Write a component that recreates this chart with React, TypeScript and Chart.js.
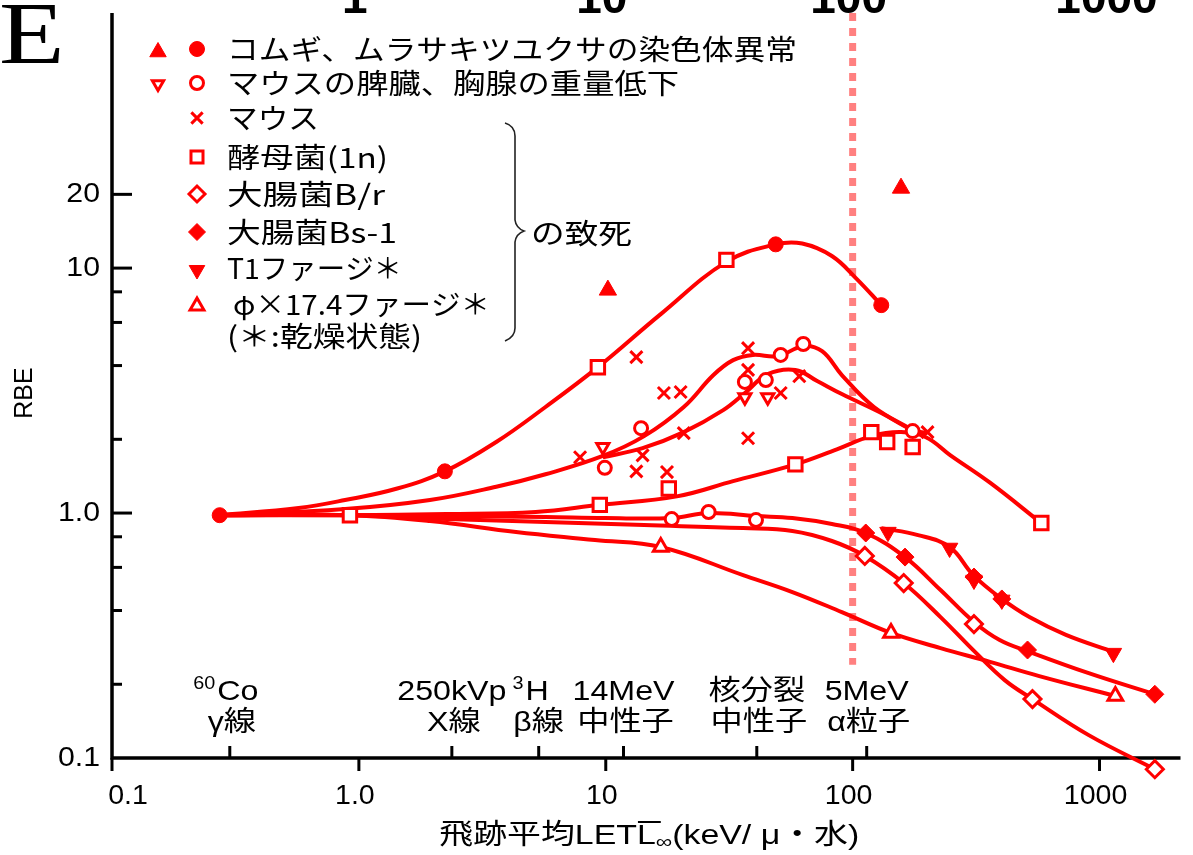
import React, { useEffect, useRef } from 'react';
import { Chart, registerables } from 'chart.js';

Chart.register(...registerables);

const RED = '#ff0000';
const X_MIN = 0.1;
const X_MAX = 2128;
const Y_MIN = 0.1;
const Y_MAX = 110;

// ---------- measured points (LET keV/µm, RBE) ----------
// ● コムギ、ムラサキツユクサの染色体異常
const chromCircX = [0.273, 2.23, 48.8, 130.6];
const chromCircY = [0.98, 1.48, 12.5, 7.06];
// ▲
const chromTriX = [10.2, 157];
const chromTriY = [8.13, 21.2];
// ○ マウスの脾臓、胸腺の重量低下
const organCircX = [9.91, 13.9, 36.6, 44.5, 51.1, 63.1, 175, 18.5, 26.1, 40.6];
const organCircY = [1.53, 2.22, 3.43, 3.49, 4.42, 4.9, 2.16, 0.945, 1.01, 0.936];
// ▽
const organTriX = [9.73, 36.6, 45.3];
const organTriY = [1.86, 2.97, 2.97];
// × マウス
const mouseX = [7.87, 13.3, 17.2, 20.1, 14.1, 13.3, 17.7, 20.7, 37.7, 37.7, 51.1, 60.8, 37.7, 201];
const mouseY = [1.69, 4.33, 3.09, 3.12, 1.72, 1.48, 1.47, 2.12, 4.71, 3.84, 3.09, 3.62, 2.02, 2.14];
// □ 酵母菌(1n)
const yeastX = [0.92, 9.29, 30.8, 9.46, 18.0, 58.6, 119, 138, 175, 581];
const yeastY = [0.98, 3.94, 10.8, 1.08, 1.26, 1.58, 2.14, 1.95, 1.86, 0.91];
// ◇ 大腸菌B/r
const ecoliBrX = [112, 161, 310, 535, 1675];
const ecoliBrY = [0.668, 0.518, 0.352, 0.174, 0.09];
// ◆ 大腸菌Bs-1
const ecoliBsX = [113, 163, 310, 402, 511, 1675];
const ecoliBsY = [0.829, 0.661, 0.548, 0.446, 0.276, 0.182];
// ▼ T1ファージ
const t1X = [139, 247, 310, 402, 1138];
const t1Y = [0.836, 0.72, 0.533, 0.442, 0.268];
// △ φ×17.4ファージ
const phiX = [16.7, 143, 1159];
const phiY = [0.727, 0.324, 0.179];

// ---------- hand-drawn curves ----------
const curveTopX = [0.273, 0.57, 0.879, 1.43, 2.23, 3.6, 5.7, 9.29, 16.7, 30.8, 48.8, 62.5, 82.4, 104, 130.6];
const curveTopY = [0.98, 1.048, 1.13, 1.26, 1.48, 1.95, 2.71, 3.94, 6.49, 10.6, 12.5, 12.6, 11.2, 9.02, 7.06];
const curveOrganX = [0.273, 0.879, 1.94, 3.6, 5.7, 9.73, 14.3, 20.7, 27.3, 32.8, 39.4, 49.7, 63.1, 75.2, 90.4, 122, 175];
const curveOrganY = [0.98, 1.038, 1.13, 1.28, 1.44, 1.71, 2.06, 2.71, 3.66, 4.21, 4.42, 4.37, 4.8, 4.58, 3.66, 2.71, 2.18];
const curveMouseX = [9.73, 14.1, 20.7, 29.9, 36.6, 45.3, 58.6, 71.8, 90.4, 130.6, 175, 201];
const curveMouseY = [1.69, 1.84, 2.14, 2.63, 3.09, 3.69, 3.84, 3.46, 3.06, 2.56, 2.18, 2.12];
const curveYeastX = [0.273, 0.92, 2.27, 5.2, 9.46, 19.4, 32.8, 58.6, 86.3, 119, 157, 198, 249, 360, 581];
const curveYeastY = [0.98, 0.98, 0.99, 1.01, 1.08, 1.17, 1.35, 1.58, 1.82, 2.06, 2.14, 2.04, 1.72, 1.33, 0.91];
const curveBsX = [0.273, 0.92, 2.27, 5.7, 9.91, 18.5, 26.1, 40.6, 57.0, 82.4, 113, 163, 227, 310, 394, 511, 904, 1675];
const curveBsY = [0.98, 0.98, 0.972, 0.963, 0.954, 0.954, 1.0, 0.972, 0.954, 0.902, 0.829, 0.661, 0.485, 0.359, 0.303, 0.273, 0.222, 0.182];
const curveBrX = [0.273, 0.92, 2.27, 5.7, 14.3, 36.0, 57.0, 82.4, 112, 161, 227, 313, 413, 535, 904, 1675];
const curveBrY = [0.98, 0.98, 0.945, 0.919, 0.893, 0.868, 0.845, 0.769, 0.668, 0.518, 0.376, 0.271, 0.208, 0.174, 0.124, 0.09];
const curvePhiX = [0.273, 0.92, 1.94, 4.33, 9.04, 16.7, 36.0, 57.0, 90.4, 143, 227, 360, 570, 1159];
const curvePhiY = [0.98, 0.98, 0.928, 0.837, 0.776, 0.727, 0.558, 0.476, 0.394, 0.324, 0.281, 0.247, 0.216, 0.179];
const curveT1X = [130.6, 184, 247, 308, 402, 520, 731, 1138];
const curveT1Y = [0.868, 0.813, 0.727, 0.558, 0.446, 0.376, 0.318, 0.271];

// dashed reference line at LET = 100
const refLineX = [100, 100];
const refLineY = [110, 0.24];

// ---------- axes ----------
const xMajorTicks = [0.1, 1, 10, 100, 1000];
const xTickLabels = ['0.1', '1.0', '10', '100', '1000'];
const yMajorTicks = [1, 10, 20];
const yMinorTicks = [0.2, 0.4, 0.6, 0.8, 2, 4, 6, 8];
const yTickValues = [0.1, 1, 10, 20];
const yTickLabels = ['0.1', '1.0', '10', '20'];
const radiationLET = [0.3, 2.38, 5.35, 11.8, 40.9, 114];
const radiationLine1 = ['60Co', '250kVp', '3H', '14MeV', '核分裂', '5MeV'];
const radiationLine2 = ['γ線', 'X線', 'β線', '中性子', '中性子', 'α粒子'];
const topCutLabels = ['1', '10', '100', '1000'];
const topCutValues = [1, 10, 100, 1000];

const legendLabels = [
  'コムギ、ムラサキツユクサの染色体異常',
  'マウスの脾臓、胸腺の重量低下',
  'マウス',
  '酵母菌(1n)',
  '大腸菌B/r',
  '大腸菌Bs-1',
  'T1ファージ＊',
  'φ×17.4ファージ＊',
  '(＊:乾燥状態)',
];

const SANS = "'Liberation Sans', 'Noto Sans CJK JP', sans-serif";
const JP = "'Noto Sans CJK JP', sans-serif";

function pts(xs: number[], ys: number[]) {
  return xs.map((x, i) => ({ x, y: ys[i] }));
}

function markerSet(label: string, xs: number[], ys: number[], style: string, r: number, filled: boolean, rot = 0) {
  return {
    label,
    data: pts(xs, ys),
    showLine: false,
    pointStyle: style,
    pointRadius: r,
    pointHoverRadius: r,
    pointRotation: rot,
    pointBackgroundColor: filled ? RED : '#ffffff',
    pointBorderColor: RED,
    pointBorderWidth: filled ? 1 : 3,
    order: 0,
    clip: false,
  };
}

function curveSet(label: string, xs: number[], ys: number[]) {
  return {
    label,
    data: pts(xs, ys),
    showLine: true,
    pointRadius: 0,
    pointHoverRadius: 0,
    borderColor: RED,
    borderWidth: 4,
    tension: 0.4,
    fill: false,
    order: 1,
    clip: false,
  };
}

type TOpt = { size: number; family?: string; weight?: string; align?: CanvasTextAlign; sx?: number; width?: number; color?: string };

function text(ctx: CanvasRenderingContext2D, s: string, x: number, y: number, o: TOpt) {
  ctx.save();
  ctx.font = `${o.weight || 'normal'} ${o.size}px ${o.family || SANS}`;
  ctx.fillStyle = o.color || '#000';
  ctx.textBaseline = 'middle';
  const w = ctx.measureText(s).width;
  let sx = o.sx || 1;
  if (o.width) sx = o.width / w;
  const total = w * sx;
  let left = x;
  if (o.align === 'center') left = x - total / 2;
  else if (o.align === 'right') left = x - total;
  ctx.translate(left, y);
  ctx.scale(sx, 1);
  ctx.textAlign = 'left';
  ctx.fillText(s, 0, 0);
  ctx.restore();
  return total;
}

function mark(ctx: CanvasRenderingContext2D, style: string, x: number, y: number, r: number, filled: boolean, rot = 0) {
  ctx.save();
  ctx.translate(x, y);
  ctx.rotate((rot * Math.PI) / 180);
  ctx.beginPath();
  if (style === 'circle') ctx.arc(0, 0, r, 0, Math.PI * 2);
  else if (style === 'triangle') {
    for (let k = 0; k < 3; k++) {
      const a = (k * 2 * Math.PI) / 3;
      if (k === 0) ctx.moveTo(Math.sin(a) * r, -Math.cos(a) * r);
      else ctx.lineTo(Math.sin(a) * r, -Math.cos(a) * r);
    }
    ctx.closePath();
  } else if (style === 'rect') {
    const s = r * Math.SQRT1_2;
    ctx.rect(-s, -s, 2 * s, 2 * s);
  } else if (style === 'rectRot') {
    ctx.moveTo(-r, 0);
    ctx.lineTo(0, -r);
    ctx.lineTo(r, 0);
    ctx.lineTo(0, r);
    ctx.closePath();
  } else if (style === 'crossRot') {
    const s = r * Math.SQRT1_2;
    ctx.moveTo(-s, -s);
    ctx.lineTo(s, s);
    ctx.moveTo(-s, s);
    ctx.lineTo(s, -s);
  }
  ctx.lineWidth = filled ? 1 : 3;
  ctx.strokeStyle = RED;
  ctx.fillStyle = filled ? RED : '#fff';
  if (style !== 'crossRot') ctx.fill();
  ctx.stroke();
  ctx.restore();
}

const decorPlugin = {
  id: 'decor',
  beforeDatasetsDraw(chart: any) {
    const ctx: CanvasRenderingContext2D = chart.ctx;
    const { left, top, bottom, right } = chart.chartArea;
    const xs = chart.scales.x;
    const ys = chart.scales.y;
    ctx.save();
    ctx.strokeStyle = '#000';
    ctx.lineWidth = 3.5;
    ctx.lineCap = 'butt';
    ctx.beginPath();
    ctx.moveTo(left, top);
    ctx.lineTo(left, bottom);
    ctx.moveTo(left - 1.75, bottom);
    ctx.lineTo(right, bottom);
    ctx.stroke();
    ctx.lineWidth = 3;
    xMajorTicks.forEach((v) => {
      const px = xs.getPixelForValue(v);
      ctx.beginPath();
      ctx.moveTo(px, bottom);
      ctx.lineTo(px, bottom + 13);
      ctx.stroke();
    });
    radiationLET.forEach((v) => {
      const px = xs.getPixelForValue(v);
      ctx.beginPath();
      ctx.moveTo(px, bottom);
      ctx.lineTo(px, bottom - 12);
      ctx.stroke();
    });
    yMajorTicks.forEach((v) => {
      const py = ys.getPixelForValue(v);
      ctx.beginPath();
      ctx.moveTo(left, py);
      ctx.lineTo(left + 20, py);
      ctx.stroke();
    });
    yMinorTicks.forEach((v) => {
      const py = ys.getPixelForValue(v);
      ctx.beginPath();
      ctx.moveTo(left, py);
      ctx.lineTo(left + 10, py);
      ctx.stroke();
    });
    ctx.restore();
  },
  afterDraw(chart: any) {
    const ctx: CanvasRenderingContext2D = chart.ctx;
    const { left, bottom, right } = chart.chartArea;
    const xs = chart.scales.x;
    const ys = chart.scales.y;

    // tick labels
    xMajorTicks.forEach((v, i) => {
      const shift = i === 0 ? 16 : -4;
      text(ctx, xTickLabels[i], xs.getPixelForValue(v) + shift, bottom + 38, { size: 28, align: 'center', sx: 1.02 });
    });
    yTickValues.forEach((v, i) => {
      text(ctx, yTickLabels[i], left - 12, ys.getPixelForValue(v), { size: 28, align: 'right', sx: 1.08 });
    });

    // radiation labels
    radiationLET.forEach((v, i) => {
      const px = xs.getPixelForValue(v);
      const l1 = radiationLine1[i];
      if (l1 === '60Co' || l1 === '3H') {
        const sup = l1 === '60Co' ? '60' : '3';
        const main = l1 === '60Co' ? 'Co' : 'H';
        ctx.save();
        ctx.font = `18px ${SANS}`;
        const w1 = ctx.measureText(sup).width * 1.1;
        ctx.font = `28px ${SANS}`;
        const w2 = ctx.measureText(main).width * 1.15;
        ctx.restore();
        const start = px - (w1 + w2 + 2) / 2 - (l1 === '3H' ? 8 : 4);
        text(ctx, sup, start, bottom - 74, { size: 18, sx: 1.1 });
        text(ctx, main, start + w1 + 2, bottom - 66, { size: 28, sx: 1.15 });
      } else {
        text(ctx, l1, px, bottom - 66, { size: 28, align: 'center', sx: 1.15 });
      }
      text(ctx, radiationLine2[i], px + (i === 2 ? 0 : 2), bottom - 35, { size: 28, align: 'center', sx: 1.15 });
    });

    // x axis title
    {
      const cy = 836;
      const parts: [string, number, number][] = [
        ['飛跡平均LET', 28, 0],
        ['L', 28, 0],
        ['∞', 19, 7],
        ['(keV/ μ・水)', 28, 0],
      ];
      ctx.save();
      const widths = parts.map(([s, sz]) => {
        ctx.font = `${sz}px ${SANS}`;
        return ctx.measureText(s).width;
      });
      ctx.restore();
      const raw = widths.reduce((a, b) => a + b, 0);
      const sx = 420 / raw;
      let x0 = (left + right) / 2 + 3 - 210;
      parts.forEach(([s, sz, dy], i) => {
        text(ctx, s, x0, cy + dy, { size: sz, sx });
        if (i === 1) {
          ctx.save();
          ctx.strokeStyle = '#000';
          ctx.lineWidth = 2;
          ctx.beginPath();
          ctx.moveTo(x0 + 1, cy - 14);
          ctx.lineTo(x0 + widths[i] * sx + 5, cy - 14);
          ctx.stroke();
          ctx.restore();
        }
        x0 += widths[i] * sx;
      });
    }
    ctx.save();
    ctx.translate(25, 393);
    ctx.rotate(-Math.PI / 2);
    text(ctx, 'RBE', 0, 0, { size: 25, align: 'center' });
    ctx.restore();

    // panel letter and cut-off labels of the panel above
    text(ctx, 'E', -1, 40, { size: 88, family: "'Liberation Serif', serif", sx: 1.22 });
    topCutLabels.forEach((s, i) => {
      ctx.save();
      ctx.font = `bold 46px ${SANS}`;
      ctx.textAlign = 'center';
      ctx.textBaseline = 'alphabetic';
      ctx.fillStyle = '#000';
      const shift = i === 3 ? 7 : -4;
      ctx.fillText(s, xs.getPixelForValue(topCutValues[i]) + shift, 13);
      ctx.restore();
    });

    // legend
    const rowY = [49, 83, 118, 157, 194, 232, 268, 304, 336];
    const legendW = [570, 452, 92, 161, 158, 170, 175, 257, 195];
    const legendMarks: [string, number, boolean, number][] = [
      ['circle', 7.5, true, 0],
      ['circle', 6.5, false, 0],
      ['crossRot', 8, false, 0],
      ['rect', 8.5, false, 0],
      ['rectRot', 8, false, 0],
      ['rectRot', 8.5, true, 0],
      ['triangle', 9, true, 180],
      ['triangle', 8, false, 0],
    ];
    legendLabels.forEach((s, i) => {
      const tx = i === 7 ? 233 : 227;
      text(ctx, s, tx, rowY[i], { size: 28, family: JP, width: legendW[i] });
      if (i < legendMarks.length) {
        const [st, r, f, rot] = legendMarks[i];
        mark(ctx, st, 197, rowY[i] + (st === 'triangle' ? 2 : 0), r, f, rot);
      }
    });
    mark(ctx, 'triangle', 158, 52, 9.5, true, 0);
    mark(ctx, 'triangle', 158, 84, 6.5, false, 180);

    // brace
    ctx.save();
    ctx.strokeStyle = '#222';
    ctx.lineWidth = 1.6;
    ctx.beginPath();
    ctx.moveTo(505, 123);
    ctx.quadraticCurveTo(515, 126, 515, 136);
    ctx.lineTo(515, 220);
    ctx.quadraticCurveTo(516, 228, 524, 231);
    ctx.quadraticCurveTo(516, 234, 515, 242);
    ctx.lineTo(515, 328);
    ctx.quadraticCurveTo(515, 337, 505, 341);
    ctx.stroke();
    ctx.restore();
    text(ctx, 'の致死', 531, 233, { size: 28, family: JP, width: 101 });
  },
};

export default function App() {
  const ref = useRef<HTMLCanvasElement>(null);
  useEffect(() => {
    document.body.style.margin = '0';
    const canvas = ref.current!;
    const chart = new Chart(canvas, {
      type: 'scatter',
      data: {
        datasets: [
          markerSet('chromCirc', chromCircX, chromCircY, 'circle', 7.5, true),
          markerSet('chromTri', chromTriX, chromTriY, 'triangle', 10, true),
          markerSet('organCirc', organCircX, organCircY, 'circle', 6.5, false),
          markerSet('organTri', organTriX, organTriY, 'triangle', 7, false, 180),
          markerSet('mouse', mouseX, mouseY, 'crossRot', 8.5, false),
          markerSet('yeast', yeastX, yeastY, 'rect', 9.5, false),
          markerSet('ecoliBr', ecoliBrX, ecoliBrY, 'rectRot', 8.5, false),
          markerSet('ecoliBs', ecoliBsX, ecoliBsY, 'rectRot', 9, true),
          markerSet('t1', t1X, t1Y, 'triangle', 9.5, true, 180),
          markerSet('phi', phiX, phiY, 'triangle', 8.5, false),
          curveSet('cTop', curveTopX, curveTopY),
          curveSet('cOrgan', curveOrganX, curveOrganY),
          curveSet('cMouse', curveMouseX, curveMouseY),
          curveSet('cYeast', curveYeastX, curveYeastY),
          curveSet('cBs', curveBsX, curveBsY),
          curveSet('cBr', curveBrX, curveBrY),
          curveSet('cPhi', curvePhiX, curvePhiY),
          curveSet('cT1', curveT1X, curveT1Y),
          {
            label: 'ref100',
            data: pts(refLineX, refLineY),
            showLine: true,
            pointRadius: 0,
            borderColor: '#ff8080',
            borderWidth: 7,
            borderDash: [8, 7],
            order: 2,
            clip: false,
          },
        ] as any,
      },
      options: {
        responsive: false,
        animation: false,
        devicePixelRatio: 1,
        events: [],
        layout: { padding: { left: 112, top: 13, right: 0, bottom: 97 } },
        plugins: {
          legend: { display: false },
          tooltip: { enabled: false },
          title: { display: false },
        },
        scales: {
          x: { type: 'logarithmic', min: X_MIN, max: X_MAX, display: false },
          y: { type: 'logarithmic', min: Y_MIN, max: Y_MAX, display: false },
        },
      } as any,
      plugins: [decorPlugin],
    });
    return () => chart.destroy();
  }, []);
  return (
    <div style={{ width: 1193, height: 855, background: '#fff', overflow: 'hidden' }}>
      <canvas ref={ref} width={1193} height={855} style={{ display: 'block' }} />
    </div>
  );
}
